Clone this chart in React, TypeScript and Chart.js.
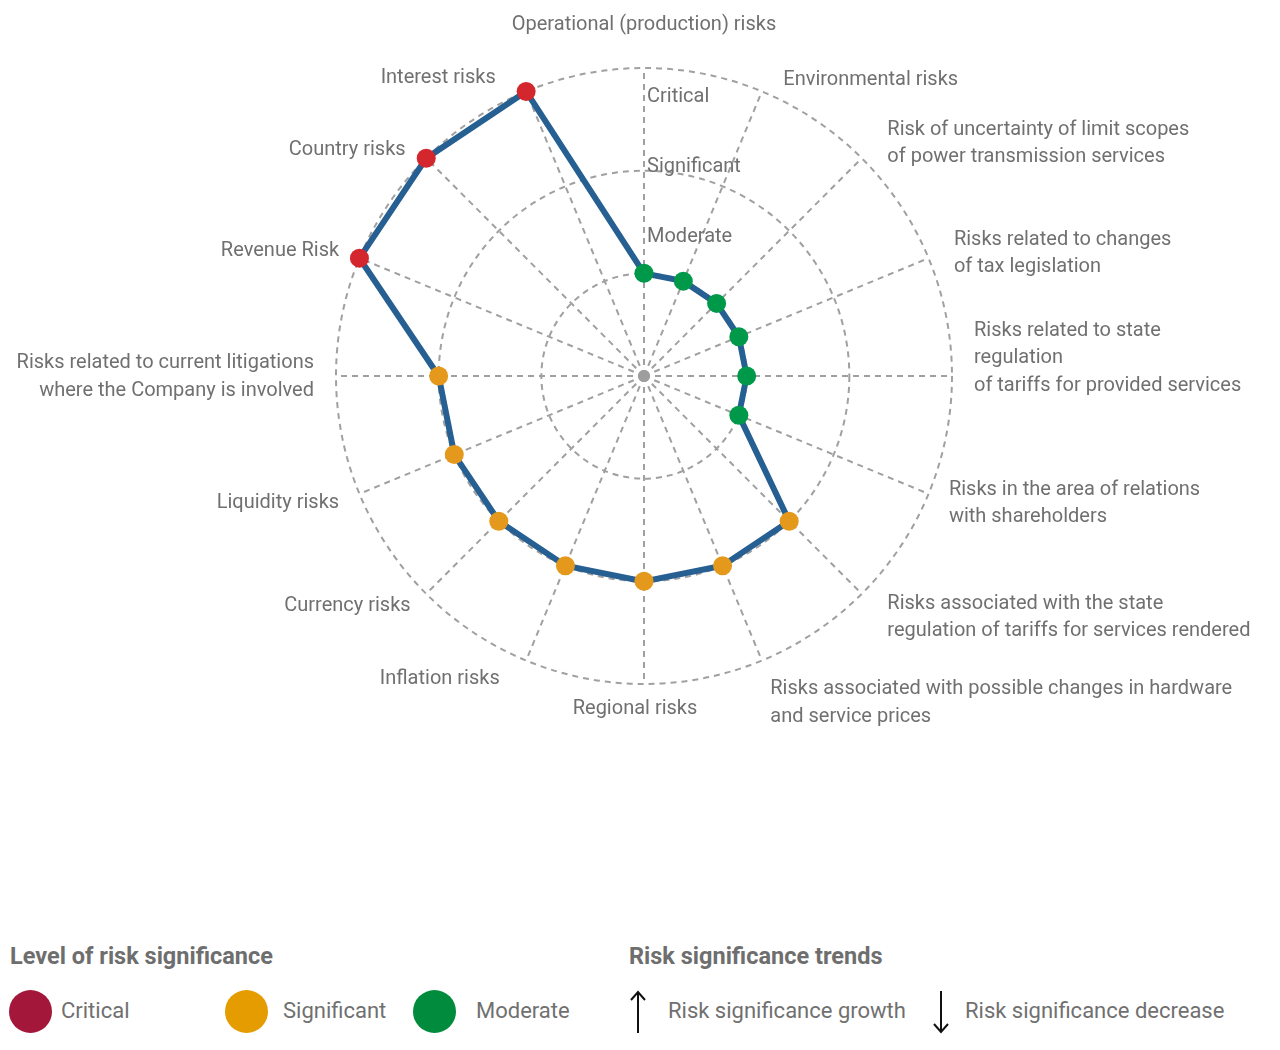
import Chart from 'chart.js/auto';
import { useEffect, useRef } from 'react';

// axes, clockwise from the top
const riskLabels: string[][] = [
	['Operational (production) risks'],
	['Environmental risks'],
	['Risk of uncertainty of limit scopes', 'of power transmission services'],
	['Risks related to changes', 'of tax legislation'],
	['Risks related to state', 'regulation', 'of tariffs for provided services'],
	['Risks in the area of relations', 'with shareholders'],
	['Risks associated with the state', 'regulation of tariffs for services rendered'],
	['Risks associated with possible changes in hardware', 'and service prices'],
	['Regional risks'],
	['Inflation risks'],
	['Currency risks'],
	['Liquidity risks'],
	['Risks related to current litigations', 'where the Company is involved'],
	['Revenue Risk'],
	['Country risks'],
	['Interest risks'],
];

// 1 = moderate, 2 = significant, 3 = critical
const riskLevels = [1, 1, 1, 1, 1, 1, 2, 2, 2, 2, 2, 2, 2, 3, 3, 3];

const levelNames = ['Moderate', 'Significant', 'Critical'];
const pointColors = ['#00994a', '#e4991c', '#d3262d'];
const legendColors = ['#008c3c', '#e59c00', '#a3173a'];

const FONT = 'Roboto, "Noto Sans", sans-serif';
const TEXT = '#707070';
const LINE_H = 27.5;

// hand nudges for a few labels, same as the original layout
const labelNudge: Record<number, [number, number]> = {
	1: [13, 8],
	2: [10, 0],
	3: [5, 3],
	4: [0, -19],
	6: [10, 7],
	7: [0, 21],
	8: [-9, 0],
	9: [-18, -3],
	10: [0, -4],
	14: [-5, 6],
	15: [-22, 6],
};

const labelPlugin = {
	id: 'riskLabels',
	beforeDatasetsDraw(chart: any) {
		const scale = chart.scales.r;
		const ctx = chart.ctx;
		ctx.save();
		ctx.fillStyle = '#9e9e9e';
		ctx.beginPath();
		ctx.arc(scale.xCenter, scale.yCenter, 6, 0, Math.PI * 2);
		ctx.fill();
		// level names sit just right of the top spoke
		const spots = [1.37, 2.06, 2.74];
		ctx.font = `20px ${FONT}`;
		ctx.fillStyle = TEXT;
		ctx.textAlign = 'left';
		ctx.textBaseline = 'middle';
		levelNames.forEach((name, k) => {
			const d = scale.getDistanceFromCenterForValue(spots[k]);
			ctx.fillText(name, scale.xCenter + 3, scale.yCenter - d + 2);
		});
		ctx.restore();
	},
	afterDraw(chart: any) {
		const scale = chart.scales.r;
		const ctx = chart.ctx;
		const labels: string[][] = chart.data.labels;
		const n = labels.length;
		ctx.save();
		ctx.font = `20px ${FONT}`;
		ctx.fillStyle = TEXT;
		ctx.textBaseline = 'middle';
		labels.forEach((lines, i) => {
			const pos = scale.getPointPosition(i, scale.drawingArea + 22);
			const [dx, dy] = labelNudge[i] || [0, 0];
			const deg = (i * 360) / n;
			const h = lines.length * LINE_H;
			let top = pos.y - h / 2;
			if (deg === 0) {
				ctx.textAlign = 'center';
				top = pos.y - h - 8;
			} else if (deg === 180) {
				ctx.textAlign = 'center';
				top = pos.y - h / 2 + 2;
			} else {
				ctx.textAlign = deg < 180 ? 'left' : 'right';
			}
			lines.forEach((ln, k) => ctx.fillText(ln, pos.x + dx, top + dy + LINE_H * (k + 0.5) + 1));
		});
		ctx.restore();
	},
};

const RiskRadar = () => {
	const canvasRef = useRef<HTMLCanvasElement | null>(null);

	useEffect(() => {
		if (!canvasRef.current) return;
		const chart = new Chart(canvasRef.current, {
			type: 'radar',
			data: {
				labels: riskLabels,
				datasets: [
					{
						data: riskLevels,
						borderColor: '#265f91',
						borderWidth: 6,
						fill: false,
						pointRadius: 9.5,
						pointBorderWidth: 0,
						pointBackgroundColor: riskLevels.map((v) => pointColors[v - 1]),
					},
				],
			},
			options: {
				animation: false,
				responsive: false,
				layout: { padding: { left: 328, right: 320, top: 60, bottom: 44 } },
				plugins: { legend: { display: false }, tooltip: { enabled: false } },
				scales: {
					r: {
						min: 0,
						max: 3,
						ticks: { stepSize: 1, display: false },
						pointLabels: { display: false },
						grid: { circular: true, color: '#a0a0a0', lineWidth: 2 },
						border: { dash: [6, 5] },
						angleLines: { color: '#a0a0a0', lineWidth: 2, borderDash: [6, 5] },
					},
				},
			},
			plugins: [labelPlugin],
		});
		return () => chart.destroy();
	}, []);

	return <canvas ref={canvasRef} width={1264} height={720} style={{ display: 'block' }} />;
};

const Arrow = ({ down }: { down?: boolean }) => (
	<svg width={16} height={44} viewBox="0 0 16 44" style={{ position: 'absolute', top: 0, left: 0 }}>
		<g transform={down ? 'rotate(180 8 22)' : undefined} stroke="#111" strokeWidth={2} fill="none">
			<line x1={8} y1={2} x2={8} y2={43} />
			<polyline points="1,10 8,2 15,10" />
		</g>
	</svg>
);

const Legend = () => {
	const title = { position: 'absolute' as const, top: 214, fontSize: 23.5, lineHeight: '28px', fontWeight: 700, color: '#6e6e6e' };
	const item = { position: 'absolute' as const, top: 270, fontSize: 22, lineHeight: '26px', color: TEXT };
	const dot = (left: number, color: string) => (
		<div style={{ position: 'absolute', left, top: 262, width: 43, height: 43, borderRadius: '50%', background: color }} />
	);
	return (
		<div style={{ position: 'relative', width: 1264, height: 314, fontFamily: FONT }}>
			<div style={{ ...title, left: 2 }}>Level of risk significance</div>
			{dot(1, legendColors[2])}
			<div style={{ ...item, left: 53 }}>{levelNames[2]}</div>
			{dot(217, legendColors[1])}
			<div style={{ ...item, left: 275 }}>{levelNames[1]}</div>
			{dot(405, legendColors[0])}
			<div style={{ ...item, left: 468 }}>{levelNames[0]}</div>

			<div style={{ ...title, left: 621 }}>Risk significance trends</div>
			<div style={{ position: 'absolute', left: 622, top: 262, width: 16, height: 44 }}>
				<Arrow />
			</div>
			<div style={{ ...item, left: 660 }}>Risk significance growth</div>
			<div style={{ position: 'absolute', left: 925, top: 262, width: 16, height: 44 }}>
				<Arrow down />
			</div>
			<div style={{ ...item, left: 957 }}>Risk significance decrease</div>
		</div>
	);
};

export default function App() {
	return (
		<div style={{ width: 1264, fontFamily: FONT }}>
			<RiskRadar />
			<Legend />
		</div>
	);
}
